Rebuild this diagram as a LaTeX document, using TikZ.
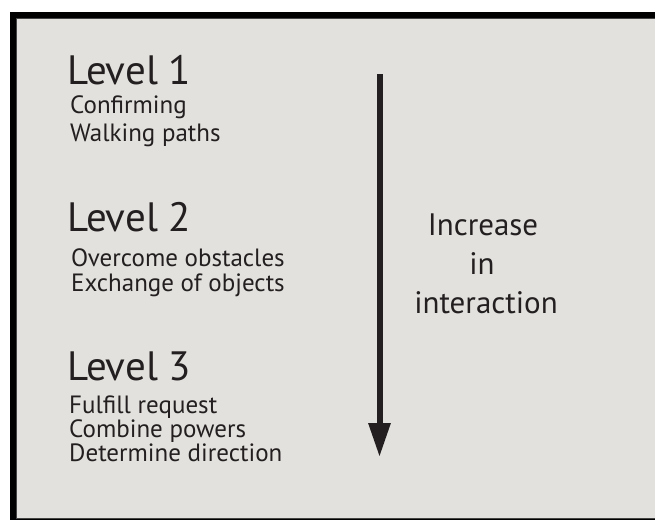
\documentclass[tikz,border=0pt]{standalone}
\usepackage{fontspec}
\setmainfont{PT Sans}
\usetikzlibrary{arrows.meta}
\definecolor{bggray}{HTML}{E2E1DD}
\definecolor{ink}{HTML}{231F20}
\definecolor{edgegray}{HTML}{444444}
\tikzset{
  lvl/.style={anchor=base west, inner sep=0pt, text=ink, font=\fontsize{41}{44}\selectfont},
  item/.style={anchor=base west, inner sep=0pt, text=ink, font=\fontsize{25}{27}\selectfont},
  side/.style={anchor=base, inner sep=0pt, text=ink, font=\fontsize{31}{34}\selectfont},
}
\begin{document}
\begin{tikzpicture}[x=1pt,y=-1pt]
\useasboundingbox (0,0) rectangle (655,521);
\fill[white] (0,0) rectangle (655,521);
\fill[black] (10,12) rectangle (655,520);
\fill[bggray] (16.5,18.5) rectangle (656,518.5);
\draw[edgegray, line width=1.4pt] (656,18.5) -- (16.5,18.5) -- (16.5,518.5) -- (656,518.5);

\node[lvl] (l1) at (67,85) {Level 1};
\node[item] (c1a) at (70,114) {Confirming};
\node[item] (c1b) at (70,142) {Walking paths};

\node[lvl] (l2) at (67,232) {Level 2};
\node[item] (c2a) at (71,266) {Overcome obstacles};
\node[item] (c2b) at (71,291) {Exchange of objects};

\node[lvl] (l3) at (67,380) {Level 3};
\node[item] (c3a) at (69,413) {Fulfill request};
\node[item] (c3b) at (69,437) {Combine powers};
\node[item] (c3c) at (69,461) {Determine direction};

\node[side] (s1) at (483,235) {Increase};
\node[side] (s2) at (482,274) {in};
\node[side] (s3) at (486,313) {interaction};

\coordinate (atop) at (379.5,74.5);
\coordinate (atip) at (379.5,457);
\draw[ink, line width=6pt, -{Triangle[width=21pt,length=34pt]}] (atop) -- (atip);
\end{tikzpicture}
\end{document}
